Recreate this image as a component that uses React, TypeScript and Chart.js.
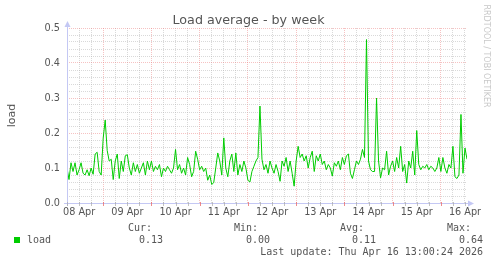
import React, { useEffect, useRef } from "react";
import { Chart, registerables } from "chart.js";

Chart.register(...registerables);

const TITLE = "Load average - by week";
const Y_TITLE = "load";
const WATERMARK = "RRDTOOL / TOBI OETIKER";
const SERIES_NAME = "load";
const DAY_LABELS = ["08 Apr", "09 Apr", "10 Apr", "11 Apr", "12 Apr", "13 Apr", "14 Apr", "15 Apr", "16 Apr"];
const STAT_HEADERS = ["Cur:", "Min:", "Avg:", "Max:"];
const STAT_VALUES = ["0.13", "0.00", "0.11", "0.64"];
const LAST_UPDATE = "Last update: Thu Apr 16 13:00:24 2026";

// hours since 08 Apr 00:00, hourly samples starting at START_HOUR
const START_HOUR = 6;
const X_MIN = 6;
const X_MAX = 205;
const Y_MAX = 0.5;

const LOAD_VALUES = [
  0.10, 0.067, 0.115, 0.09, 0.115, 0.08, 0.095, 0.115, 0.085, 0.08,
  0.095, 0.078, 0.10, 0.082, 0.14, 0.145, 0.09, 0.08, 0.185, 0.237,
  0.15, 0.12, 0.125, 0.067, 0.12, 0.14, 0.07, 0.12, 0.09, 0.135,
  0.138, 0.10, 0.08, 0.115, 0.09, 0.11, 0.085, 0.10, 0.115, 0.08,
  0.12, 0.095, 0.12, 0.09, 0.105, 0.095, 0.11, 0.075, 0.10, 0.09,
  0.105, 0.095, 0.085, 0.10, 0.153, 0.095, 0.11, 0.085, 0.10, 0.08,
  0.13, 0.11, 0.075, 0.09, 0.148, 0.125, 0.095, 0.105, 0.09, 0.10,
  0.065, 0.08, 0.053, 0.058, 0.10, 0.143, 0.12, 0.08, 0.186, 0.10,
  0.075, 0.12, 0.14, 0.09, 0.143, 0.08, 0.11, 0.09, 0.12, 0.10,
  0.065, 0.06, 0.09, 0.105, 0.12, 0.13, 0.277, 0.125, 0.095, 0.11,
  0.085, 0.12, 0.10, 0.085, 0.11, 0.09, 0.062, 0.12, 0.105, 0.13,
  0.09, 0.12, 0.085, 0.048, 0.12, 0.162, 0.13, 0.14, 0.12, 0.135,
  0.10, 0.13, 0.148, 0.09, 0.135, 0.12, 0.14, 0.11, 0.12, 0.095,
  0.11, 0.10, 0.077, 0.115, 0.105, 0.12, 0.095, 0.13, 0.11, 0.135,
  0.14, 0.085, 0.07, 0.095, 0.12, 0.11, 0.125, 0.153, 0.13, 0.467,
  0.12, 0.095, 0.09, 0.09, 0.30, 0.12, 0.072, 0.10, 0.095, 0.148,
  0.08, 0.105, 0.12, 0.09, 0.13, 0.10, 0.162, 0.09, 0.11, 0.057,
  0.12, 0.10, 0.148, 0.08, 0.207, 0.11, 0.095, 0.105, 0.10, 0.11,
  0.095, 0.105, 0.10, 0.09, 0.10, 0.13, 0.09, 0.13, 0.10, 0.085,
  0.11, 0.10, 0.162, 0.075, 0.07, 0.08, 0.253, 0.085, 0.157, 0.125,
];

const W = 497;
const H = 264;
const TEXT = "#555555";
const MAJOR = "rgba(235,120,120,0.45)";
const MINOR = "rgba(180,180,180,0.5)";
const AXIS = "#c4c8f4";
const LINE = "#00cc00";
const SANS = '"DejaVu Sans", sans-serif';
const MONO = '"DejaVu Sans Mono", monospace';

const isMultiple = (v: number, step: number) => Math.abs(v / step - Math.round(v / step)) < 1e-6;

const decorPlugin = {
  id: "rrdDecor",
  afterDraw(chart: any) {
    const ctx = chart.ctx;
    const a = chart.chartArea;
    ctx.save();
    // axes with arrows
    ctx.strokeStyle = AXIS;
    ctx.fillStyle = AXIS;
    ctx.lineWidth = 1;
    ctx.beginPath();
    ctx.moveTo(a.left + 0.5, a.bottom + 3);
    ctx.lineTo(a.left + 0.5, a.top - 4);
    ctx.moveTo(a.left - 3, a.bottom + 0.5);
    ctx.lineTo(a.right + 4, a.bottom + 0.5);
    ctx.stroke();
    ctx.beginPath();
    ctx.moveTo(a.left + 0.5, a.top - 7);
    ctx.lineTo(a.left - 2.5, a.top - 1);
    ctx.lineTo(a.left + 3.5, a.top - 1);
    ctx.closePath();
    ctx.fill();
    ctx.beginPath();
    ctx.moveTo(a.right + 7, a.bottom + 0.5);
    ctx.lineTo(a.right + 1, a.bottom - 2.5);
    ctx.lineTo(a.right + 1, a.bottom + 3.5);
    ctx.closePath();
    ctx.fill();

    // tick marks on x axis
    const xs = chart.scales.x;
    for (let h = X_MIN; h <= X_MAX; h += 6) {
      const px = Math.round(xs.getPixelForValue(h)) + 0.5;
      ctx.strokeStyle = isMultiple(h, 24) ? "rgba(235,110,110,0.8)" : "rgba(170,170,170,0.7)";
      ctx.beginPath();
      ctx.moveTo(px, a.bottom - 1);
      ctx.lineTo(px, a.bottom + 3);
      ctx.stroke();
    }

    // title
    ctx.fillStyle = TEXT;
    ctx.font = `12.7px ${SANS}`;
    ctx.textAlign = "center";
    ctx.textBaseline = "alphabetic";
    ctx.fillText(TITLE, W / 2, 24);

    // y title
    ctx.save();
    ctx.translate(15, (a.top + a.bottom) / 2);
    ctx.rotate(-Math.PI / 2);
    ctx.font = `11px ${SANS}`;
    ctx.textAlign = "center";
    ctx.fillText(Y_TITLE, 0, 0);
    ctx.restore();

    // watermark
    ctx.save();
    ctx.translate(484, 56);
    ctx.rotate(Math.PI / 2);
    ctx.fillStyle = "#c8c8c8";
    ctx.font = `8px ${SANS}`;
    ctx.textAlign = "center";
    ctx.fillText(WATERMARK, 0, 0);
    ctx.restore();

    // legend
    ctx.fillStyle = LINE;
    ctx.fillRect(14, 237, 6, 6);
    ctx.fillStyle = TEXT;
    ctx.font = `10px ${MONO}`;
    ctx.textAlign = "left";
    ctx.fillText(SERIES_NAME, 27, 243);
    const headX = [128, 234, 340, 447];
    const valX = [139, 246, 352, 459];
    STAT_HEADERS.forEach((t, i) => ctx.fillText(t, headX[i], 231));
    STAT_VALUES.forEach((t, i) => ctx.fillText(t, valX[i], 243));
    ctx.textAlign = "right";
    ctx.fillText(LAST_UPDATE, 483, 255);
    ctx.restore();
  },
};

export default function App() {
  const ref = useRef<HTMLCanvasElement | null>(null);
  useEffect(() => {
    if (!ref.current) return;
    const data = LOAD_VALUES.map((v, i) => ({ x: START_HOUR + i, y: v }));
    const chart = new Chart(ref.current, {
      type: "line",
      data: {
        datasets: [
          {
            label: SERIES_NAME,
            data,
            borderColor: LINE,
            borderWidth: 1,
            pointRadius: 0,
            tension: 0,
            fill: false,
          },
        ],
      },
      options: {
        animation: false,
        responsive: false,
        devicePixelRatio: 1,
        layout: { padding: { left: 0, top: 28, right: 30, bottom: 0 } },
        plugins: { legend: { display: false }, tooltip: { enabled: false }, title: { display: false } },
        scales: {
          x: {
            type: "linear",
            min: X_MIN,
            max: X_MAX,
            afterBuildTicks: (scale: any) => {
              const t = [];
              for (let h = X_MIN; h <= X_MAX; h += 6) t.push({ value: h });
              scale.ticks = t;
            },
            afterFit: (scale: any) => {
              scale.height = 61;
            },
            border: { display: false, dash: [1, 1] },
            grid: {
              drawTicks: false,
              lineWidth: 1,
              color: (c: any) => (isMultiple(c.tick.value, 24) ? MAJOR : MINOR),
            },
            ticks: {
              autoSkip: false,
              maxRotation: 0,
              padding: 4,
              color: TEXT,
              font: { family: SANS, size: 9.7 },
              callback: (v: any) => {
                const n = Number(v);
                if (!isMultiple(n - 12, 24)) return "";
                const idx = Math.round((n - 12) / 24);
                return DAY_LABELS[idx] ?? "";
              },
            },
          },
          y: {
            type: "linear",
            min: 0,
            max: Y_MAX,
            afterBuildTicks: (scale: any) => {
              const t = [];
              for (let i = 0; i <= 25; i++) t.push({ value: Math.round(i * 2) / 100 });
              scale.ticks = t;
            },
            afterFit: (scale: any) => {
              scale.width = 67;
            },
            border: { display: false, dash: [1, 1] },
            grid: {
              drawTicks: false,
              lineWidth: 1,
              color: (c: any) => (isMultiple(c.tick.value, 0.1) ? MAJOR : MINOR),
            },
            ticks: {
              autoSkip: false,
              padding: 7,
              color: TEXT,
              font: { family: SANS, size: 9.7 },
              callback: (v: any) => {
                const n = Number(v);
                return isMultiple(n, 0.1) ? n.toFixed(1) : "";
              },
            },
          },
        },
      },
      plugins: [decorPlugin],
    });
    return () => chart.destroy();
  }, []);
  return (
    <div style={{ position: "fixed", left: 0, top: 0, width: W, height: H, background: "#fff" }}>
      <canvas ref={ref} width={W} height={H} style={{ display: "block", width: W, height: H }} />
    </div>
  );
}
